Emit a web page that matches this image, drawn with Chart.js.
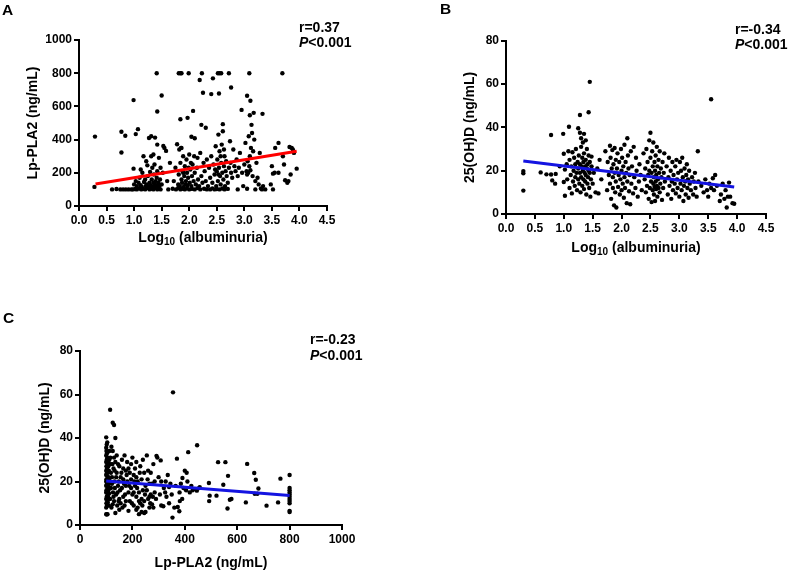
<!DOCTYPE html>
<html><head><meta charset="utf-8">
<script src="https://cdn.jsdelivr.net/npm/chart.js@4.4.1/dist/chart.umd.min.js"></script>
<style>
body{margin:0;background:#fff;width:790px;height:573px;position:relative;overflow:hidden;font-family:"Liberation Sans",Arial,sans-serif;color:#000;}
canvas{position:absolute;}
.lbl{position:absolute;font-weight:bold;font-size:15.5px;line-height:16px;}
.stat{position:absolute;font-weight:bold;font-size:14px;line-height:15px;white-space:nowrap;}
.xt{position:absolute;width:300px;text-align:center;font-weight:bold;font-size:14px;line-height:16px;white-space:nowrap;}
.xt sub{font-size:10px;line-height:0;vertical-align:-3px;}
</style></head><body>
<canvas id="cA" width="395" height="265" style="left:0;top:0"></canvas>
<canvas id="cB" width="390" height="265" style="left:400px;top:0"></canvas>
<canvas id="cC" width="395" height="283" style="left:0;top:290px"></canvas>
<div class="lbl" style="left:2px;top:2px">A</div>
<div class="lbl" style="left:440px;top:1px">B</div>
<div class="lbl" style="left:3px;top:310px">C</div>
<div class="stat" style="left:299px;top:20px">r=0.37<br><i>P</i>&lt;0.001</div>
<div class="stat" style="left:735px;top:22px">r=-0.34<br><i>P</i>&lt;0.001</div>
<div class="stat" style="left:310px;top:331px;line-height:16px">r=-0.23<br><i>P</i>&lt;0.001</div>
<div class="xt" style="left:53px;top:229px">Log<sub>10</sub> (albuminuria)</div>
<div class="xt" style="left:486px;top:239px">Log<sub>10</sub> (albuminuria)</div>
<script>
// ---- Panel A: Log10(albuminuria) vs Lp-PLA2 ----
const pointsA = [
[1.41,800],[1.81,800],[1.84,800],[1.86,800],[1.99,800],[2.23,800],[2.52,800],[2.55,800],[2.58,800],[2.72,800],[3.09,800],[3.69,800],
[2.19,759],[2.43,769],[2.25,682],[2.40,674],[2.54,678],[2.76,714],[0.99,638],[1.50,666],[1.42,569],[2.07,573],[1.84,523],[1.97,531],
[3.05,664],[3.11,634],[2.95,579],[3.10,547],[3.17,561],[3.33,555],[3.13,489],[2.22,489],[2.30,471],[2.61,493],
[0.29,418],[0.77,447],[0.84,423],[1.03,433],[1.07,463],[0.77,322],[1.53,362],[2.04,417],[2.10,408],[1.58,332],[1.78,372],[1.86,350],
[0.28,115],[0.60,100],[0.68,102],[0.75,100],[0.80,100],[0.85,100],[0.90,100],[0.95,100],[0.98,100],[1.02,102],[1.05,100],[1.10,105],
[1.13,100],[1.16,103],[1.20,100],[1.24,108],[1.28,100],[1.31,104],[1.35,100],[1.38,110],[1.42,100],[1.45,104],[1.48,100],[1.62,100],
[1.70,104],[1.76,100],[1.80,108],[1.84,100],[1.88,104],[1.92,100],[1.96,106],[2.00,100],[2.05,103],[2.10,100],[2.15,108],[2.20,100],
[2.27,104],[2.32,100],[2.38,100],[2.42,106],[2.46,100],[2.50,102],[2.55,100],[2.60,105],[2.64,100],[2.70,103],[2.88,100],[3.05,104],
[3.20,100],[3.30,105],[3.32,100],[3.52,100],[0.99,225],
[1.00,130],[1.03,150],[1.05,120],[1.08,140],[1.10,170],[1.12,125],[1.14,115],[1.15,200],[1.17,300],[1.18,145],[1.20,160],[1.21,120],
[1.23,130],[1.24,245],[1.25,180],[1.26,115],[1.28,140],[1.29,205],[1.30,125],[1.31,300],[1.32,160],[1.33,230],[1.34,118],[1.35,140],
[1.36,190],[1.37,250],[1.38,130],[1.39,150],[1.40,115],[1.41,170],[1.42,210],[1.43,125],[1.44,140],[1.45,290],[1.46,120],[1.47,160],
[1.48,230],[1.50,130],[1.52,200],[1.55,350],[1.60,150],[1.65,260],[1.12,220],[1.22,270],[1.35,310],[1.27,410],[1.31,420],
[1.38,412],[1.42,370],
[1.72,150],[1.75,230],[1.80,130],[1.81,190],[1.82,340],[1.83,120],[1.84,260],[1.85,350],[1.86,160],[1.87,140],[1.88,210],[1.89,300],
[1.90,115],[1.91,180],[1.92,240],[1.93,130],[1.94,150],[1.95,280],[1.96,200],[1.97,125],[1.98,170],[2.00,310],[2.01,140],[2.02,220],
[2.03,260],[2.04,120],[2.05,180],[2.06,250],[2.08,150],[2.10,200],[2.12,130],[2.14,230],[2.16,160],[2.18,120],[2.20,320],[2.22,180],
[2.24,140],[2.26,260],[2.28,210],[2.30,150],[2.32,280],[2.34,120],[1.99,230],[1.89,200],[2.09,300],[2.15,290],
[2.36,230],[2.38,170],[2.40,300],[2.42,140],[2.44,250],[2.46,190],[2.48,360],[2.49,120],[2.50,210],[2.51,280],[2.52,150],[2.53,430],
[2.54,230],[2.55,330],[2.56,180],[2.57,130],[2.58,260],[2.59,370],[2.60,200],[2.61,450],[2.62,160],[2.63,240],[2.64,300],[2.65,120],
[2.66,210],[2.67,270],[2.68,180],[2.70,140],[2.72,230],[2.74,390],[2.75,260],[2.76,200],[2.78,170],[2.80,340],[2.82,240],[2.84,210],
[2.86,280],[2.88,180],[2.90,230],[2.92,320],[2.47,220],[2.57,300],[2.53,190],[2.63,340],
[2.96,200],[2.98,120],[3.00,250],[3.02,380],[3.04,210],[3.06,270],[3.07,200],[3.08,420],[3.10,300],[3.11,215],[3.12,350],[3.14,440],
[3.15,180],[3.16,330],[3.18,400],[3.20,150],[3.22,260],[3.24,170],[3.26,130],[3.28,320],[3.05,190],[3.09,240],
[3.34,120],[3.38,100],[3.48,130],[3.50,240],[3.52,195],[3.55,200],[3.56,350],[3.62,380],[3.70,300],[3.72,250],[3.74,155],[3.78,140],
[3.80,150],[3.82,355],[3.84,190],[3.86,350],[3.88,340],[3.90,320],[3.95,225],[3.62,200]
];
const fitA = [[0.30,133],[3.95,330]];

// ---- Panel B: Log10(albuminuria) vs 25(OH)D ----
const pointsB = [
[1.45,61],[1.43,47],[1.28,45.7],[3.55,53],[0.78,36.5],[0.99,37],[1.09,40.3],[1.25,39.6],[1.28,37.5],[1.35,37],[1.30,35],[1.38,34],[1.33,33],
[0.30,19.8],[0.30,18.8],[0.30,10.8],[0.60,19.2],[0.70,18.3],[0.78,18.2],[0.80,15.5],[0.85,14],[0.86,18.5],[0.93,22],[1.00,27.8],
[1.00,14.8],[1.02,8.4],[1.02,20.5],[1.05,23],[1.06,16],
[1.08,29],[1.10,25],[1.10,12],[1.12,18],[1.13,22],[1.14,9.5],[1.15,28.5],[1.16,15],[1.17,20],[1.18,26],[1.19,13],[1.20,23],[1.20,17],
[1.21,30],[1.22,19],[1.23,11],[1.24,24],[1.25,16],[1.25,21],[1.26,27],[1.27,14],[1.28,19],[1.28,23],[1.29,10],[1.30,31],[1.30,17],
[1.31,22],[1.32,26],[1.32,13],[1.33,20],[1.34,24],[1.34,16],[1.35,28],[1.35,11.5],[1.36,19],[1.37,22],[1.37,15],[1.38,25],[1.38,18],
[1.39,9],[1.40,21],[1.40,30],[1.41,14],[1.41,23],[1.42,17],[1.43,27],[1.43,20],[1.44,12],[1.45,19],[1.45,24],[1.46,8],[1.47,16],
[1.48,22],[1.48,26.5],[1.50,14],[1.52,19],[1.55,10],[1.58,21],[1.60,9.5],[1.62,25],[1.65,16],
[1.72,29],[1.75,11],[1.76,24],[1.78,18],[1.80,31.5],[1.80,14],[1.81,26],[1.82,7],[1.83,21],[1.84,29.5],[1.85,12],[1.85,17],[1.86,23],
[1.87,4],[1.88,30.5],[1.88,19],[1.89,10],[1.90,25],[1.90,15],[1.91,3],[1.92,21],[1.93,28],[1.94,12.5],[1.95,18],[1.96,24],[1.97,9],
[1.98,16],[1.99,30],[2.00,20],[2.00,11],[2.01,26],[2.02,14],[2.03,22],[2.04,7.5],[2.05,32],[2.05,17],[2.06,12],[2.07,24],[2.08,19],
[2.09,5],[2.10,35],[2.10,15],[2.11,27],[2.12,21],[2.13,10.5],[2.14,18],[2.15,4.5],[2.16,29],[2.17,14],[2.18,22],[2.20,9.5],[2.21,31],
[2.22,17],[2.24,12],[2.25,26],[2.26,20],[2.28,8],[2.30,15],[2.31,23],[2.33,18],[2.35,11],
[2.38,28],[2.40,16],[2.41,21],[2.42,10],[2.43,30],[2.44,13],[2.45,24],[2.46,18],[2.47,7],[2.48,34],[2.48,20],[2.49,12],[2.50,37.5],
[2.50,26],[2.51,15],[2.52,5.5],[2.52,19],[2.53,29],[2.54,11],[2.54,22],[2.55,14],[2.55,33],[2.56,17],[2.56,9],[2.57,24],[2.57,12.5],
[2.58,20],[2.58,6],[2.59,27],[2.59,15],[2.60,11.5],[2.60,18],[2.61,31],[2.61,13],[2.62,22],[2.62,8],[2.63,16],[2.64,25],[2.64,12],
[2.65,19],[2.66,29],[2.66,10],[2.67,14],[2.68,21],[2.69,17],[2.70,6.5],[2.71,24],[2.72,12],[2.73,19],[2.74,28],[2.75,15],
[2.78,22],[2.80,9],[2.81,17],[2.82,26],[2.83,13],[2.85,20],[2.86,7],[2.87,15],[2.88,24],[2.89,11],[2.90,18],[2.92,14],[2.93,22],
[2.94,9.5],[2.95,25],[2.96,16],[2.97,12],[2.98,19],[3.00,8],[3.01,24],[3.02,14],[3.03,20],[3.04,11],[3.05,26],[3.06,17],[3.07,6],
[3.08,13],[3.09,21],[3.10,15],[3.11,9],[3.12,18],[3.13,23],[3.14,12],[3.15,16],[3.16,7.5],[3.17,20],[3.18,14],[3.20,11],[3.22,17],
[3.24,9],[3.25,15],[3.27,19],[3.28,12],[3.30,8],[3.32,29],[3.33,15],
[3.38,13],[3.42,10],[3.45,16],[3.50,8],[3.52,14],[3.55,12],[3.58,16.5],[3.60,11],[3.65,13],[3.70,6],[3.72,9],[3.75,14],[3.78,7],
[3.80,11],[3.82,3],[3.84,8],[3.86,14.5],[3.88,8],[3.92,5],[3.95,4.7],[3.62,18],[3.48,11]
];
const fitB = [[0.30,24.5],[3.95,12.5]];

// ---- Panel C: Lp-PLA2 vs 25(OH)D ----
const pointsC = [
[100,5],[102,4.8],[105,5],[100,8],[103,9],[101,10],[104,11],[100,12],[102,13],[106,14],[100,15],[103,15.5],[101,16],[105,17],[100,18],
[102,18.5],[104,19],[100,20],[103,20.5],[101,21],[106,22],[100,23],[102,23.5],[104,24],[100,25],[103,26],[101,27],[105,28],[100,29],
[102,30],[104,31],[100,32],[103,33],[101,34],[100,35.5],[102,37],[104,38],[100,40.3],[108,16],[110,19],[108,22],[110,25],[112,12],
[110,9],[108,27],[112,30],[107,13],[109,17.5],[106,20],[111,21],[107,24.5],[109,28.5],[111,14.5],[106,10.5],[112,34],
[115,53],[125,47],[130,46],[135,40],[120,36],[125,34],[130,31],[118,28],[128,26],[135,29],[140,24],[122,22],[132,20],[145,18],[118,17],
[126,15],[138,14],[115,12],[130,11],[142,9],[120,8],[150,7],[135,5.5],[125,9.5],[150,27],[155,22],[160,17],[165,13],[170,32],[175,25],
[180,20],[185,15],[190,11],[195,28],[200,31],[205,23],[210,18],[215,13],[220,8],[225,5],[230,27],[235,21],[240,16],[245,11],[250,6],
[255,32],[260,25],[265,19],[270,14],[275,9.5],[280,28],[285,20],[290,12],[295,31],[300,22],[170,9],[180,29],[190,24],[200,14],
[210,26],[220,20],[230,10],[240,30],[250,18],[260,12],[270,24],[150,12],[160,30],[175,11],[185,26],[195,17],[205,9],[215,22],[225,15],
[235,6],[245,24],[255,16],[265,8],[275,19],[285,15],[140,32],[145,28],[155,10],[165,26],[175,18],[185,6.5],[195,21],[215,29],[225,11],
[245,5.5],[265,13],[280,8],[165,21],[205,15],[235,12],[215,7],[118,24],[122,19],[128,13],[133,17],[138,22],[143,15],[148,20],
[116,31],[124,28],[132,25],[147,11],[153,16],[158,24],[162,8],[168,19],[172,14],[178,23],[188,18],[198,10],[208,20],[218,17],[228,24],
[238,9],[248,14],[258,21],[268,10],[278,13],
[305,14],[310,9],[318,8.6],[320,17],[327,20],[330,13],[335,23],[340,17.5],[345,19],[350,14],[353,3.4],[355,61],[360,8],[365,18],
[370,30.5],[373,8.3],[379,6.3],[380,15],[381,11],[385,19],[391,21.6],[395,17],[400,25],[405,16],[407,24],[410,20],[413,33.5],[419,15],
[425,18],[430,16],[441,16.5],[446,15.8],[447,36.7],[455,17],[457,17.4],[292,31.8],[308,29.7],[340,10],[310,20],[325,15],[390,12],
[492,19.3],[493,11],[495,13.5],[521,13.5],[527,28.9],[547,18.5],[555,28.9],[563,7.6],[565,22.6],[572,11.6],[578,12],[633,10.4],
[638,28.1],[665,23.9],[667,14.4],[671,20.8],[677,14.4],[681,16.8],[712,8.9],[756,10.4],[765,21.3],
[800,23],[800,17],[800,16],[800,15],[800,14],[800,13],[800,12],[800,11],[800,10],[800,6.5],[800,6]
];
const fitC = [[100,20.2],[800,13.6]];

const ticksAlbu = [0,0.5,1,1.5,2,2.5,3,3.5,4,4.5];
const ticksLp = [0,200,400,600,800,1000];
const ticksLpY = [0,200,400,600,800,1000];
const ticksVitD = [0,20,40,60,80];

const FONT = '"Liberation Sans", Arial, sans-serif';
const toXY = arr => arr.map(p => ({x: p[0], y: p[1]}));

function axis(min, max, tickVals, fmt, title, isY, fitSize) {
  return {
    type: 'linear', min: min, max: max,
    afterBuildTicks: s => { s.ticks = tickVals.map(v => ({value: v})); },
    afterFit: s => { if (isY) s.width = fitSize; else s.height = fitSize; },
    border: {display: true, color: '#000', width: 2},
    grid: {display: true, drawOnChartArea: false, drawTicks: true, tickLength: 5, color: '#000', lineWidth: 2},
    ticks: {color: '#000', font: {family: FONT, size: 12, weight: 'bold'}, padding: 2, autoSkip: false, maxRotation: 0,
            callback: v => fmt(v)},
    title: {display: title !== '', text: title, color: '#000', font: {family: FONT, size: 14, weight: 'bold'}, padding: 0}
  };
}

function makeChart(id, pts, fit, lineColor, xs, ys, pad) {
  new Chart(document.getElementById(id), {
    type: 'scatter',
    data: {datasets: [
      {type: 'line', data: toXY(fit), borderColor: lineColor, borderWidth: 3, pointRadius: 0, fill: false, order: 0},
      {type: 'scatter', data: toXY(pts), backgroundColor: '#000', borderColor: '#000', pointRadius: 2.2, borderWidth: 0, order: 1}
    ]},
    options: {
      responsive: false, animation: false, devicePixelRatio: 1,
      layout: {padding: pad},
      plugins: {legend: {display: false}, tooltip: {enabled: false}},
      scales: {x: xs, y: ys}
    }
  });
}

const f1 = v => v.toFixed(1);
const f0 = v => String(v);

makeChart('cA', pointsA, fitA, 'rgb(255,0,0)',
  axis(0, 4.5, ticksAlbu, f1, '', false, 40),
  axis(0, 1000, ticksLpY, f0, 'Lp-PLA2 (ng/mL)', true, 54),
  {left: 25, right: 68, top: 40, bottom: 19});

makeChart('cB', pointsB, fitB, 'rgb(20,20,225)',
  axis(0, 4.5, ticksAlbu, f1, '', false, 42.4),
  axis(0, 80, ticksVitD, f0, '25(OH)D (ng/mL)', true, 44),
  {left: 62, right: 24, top: 40.7, bottom: 8.6});

makeChart('cC', pointsC, fitC, 'rgb(20,20,225)',
  axis(0, 1000, ticksLp, f0, 'Lp-PLA2 (ng/mL)', false, 46.7),
  axis(0, 80, ticksVitD, f0, '25(OH)D (ng/mL)', true, 43),
  {left: 37, right: 53, top: 61, bottom: 1.3});
</script>
</body></html>
